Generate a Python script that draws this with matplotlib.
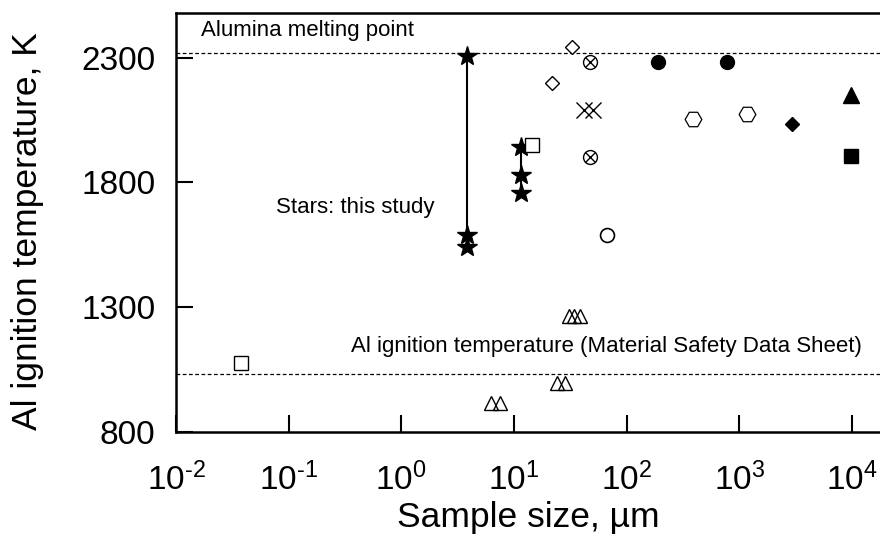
import matplotlib
matplotlib.use("Agg")
import matplotlib.pyplot as plt
from matplotlib.ticker import LogLocator, NullLocator, FuncFormatter
import math

plt.rcParams['font.family'] = ['Liberation Sans', 'DejaVu Sans']
plt.rcParams['mathtext.fontset'] = 'custom'
plt.rcParams['mathtext.rm'] = 'Liberation Sans'
plt.rcParams['mathtext.it'] = 'Liberation Sans'

# ── Reference lines ───────────────────────────────────────────────────────────
ALUMINA_MELT = 2320
MSDS_IGNITION = 1033

# ── Stars: this study (two vertical groups) ──────────────────────────────────
star_a_x = [3.8, 3.8, 3.8]
star_a_t = [2308, 1590, 1542]
star_b_x = [11.5, 11.5, 11.5]
star_b_t = [1943, 1831, 1758]

# ── Literature data ──────────────────────────────────────────────────────────
sq_open_x = [0.038, 14.5]
sq_open_t = [1078, 1951]
tri_open_x = [6.2, 7.6, 24, 28.5, 31, 34, 39]
tri_open_t = [916, 916, 996, 996, 1265, 1265, 1265]
dia_open_x = [22, 33]
dia_open_t = [2199, 2345]
circx_x = [47, 47]
circx_t = [2284, 1904]
cross_x = [42, 50]
cross_t = [2091, 2091]
circ_open_x = [67]
circ_open_t = [1590]
circ_fill_x = [190, 780]
circ_fill_t = [2283, 2283]
hex_x = [385, 1170]
hex_t = [2055, 2075]
dia_fill_x = [2950]
dia_fill_t = [2034]
tri_fill_x = [9900]
tri_fill_t = [2151]
sq_fill_x = [9900]
sq_fill_t = [1907]

fig = plt.figure(figsize=(8.8, 5.34), dpi=100)
ax = fig.add_axes([0.2, 0.191, 0.8, 0.785])

ax.axhline(ALUMINA_MELT, color='black', lw=0.9, ls=(0, (3, 2)), zorder=1)
ax.axhline(MSDS_IGNITION, color='black', lw=0.9, ls=(0, (3, 2)), zorder=1)

k = dict(ls='none', color='black', zorder=3)
ax.plot(star_a_x, star_a_t, marker='*', ms=15, ls='-', lw=1.5, color='black', zorder=3)
ax.plot(star_b_x, star_b_t, marker='*', ms=15, ls='-', lw=1.5, color='black', zorder=3)
ax.plot(sq_open_x, sq_open_t, marker='s', ms=10, mfc='white', mec='black', mew=1.0, **k)
ax.plot(tri_open_x, tri_open_t, marker='^', ms=10, mfc='none', mec='black', mew=1.0, **k)
ax.plot(dia_open_x, dia_open_t, marker='D', ms=7, mfc='white', mec='black', mew=1.0, **k)
ax.plot(circx_x, circx_t, marker='o', ms=10, mfc='white', mec='black', mew=1.0, **k)
ax.plot(circx_x, circx_t, marker='x', ms=7, mew=1.0, **k)
ax.plot(cross_x, cross_t, marker='x', ms=11, mew=1.0, **k)
ax.plot(circ_open_x, circ_open_t, marker='o', ms=10, mfc='white', mec='black', mew=1.2, **k)
ax.plot(circ_fill_x, circ_fill_t, marker='o', ms=10, **k)
ax.plot(hex_x, hex_t, marker='H', ms=12, mfc='white', mec='black', mew=0.9, **k)
ax.plot(dia_fill_x, dia_fill_t, marker='D', ms=7.5, **k)
ax.plot(tri_fill_x, tri_fill_t, marker='^', ms=11, **k)
ax.plot(sq_fill_x, sq_fill_t, marker='s', ms=10, **k)

ax.text(0.0167, 2410, 'Alumina melting point', fontsize=16, va='center', ha='left')
ax.text(0.078, 1698, 'Stars: this study', fontsize=16, va='center', ha='left')
ax.text(0.36, 1141, 'Al ignition temperature (Material Safety Data Sheet)',
        fontsize=16, va='center', ha='left')


def pow10(v, pos):
    e = int(round(math.log10(v)))
    s = str(e).replace('-', '\u2010')
    return r'$\mathdefault{10^{%s}}$' % s


ax.set_xscale('log')
ax.set_xlim(0.01, 10 ** 4.25)
ax.set_ylim(800, 2480)
ax.xaxis.set_major_locator(LogLocator(base=10, numticks=10))
ax.xaxis.set_minor_locator(NullLocator())
ax.xaxis.set_major_formatter(FuncFormatter(pow10))
ax.set_yticks([800, 1300, 1800, 2300])

ax.tick_params(direction='in', length=12, width=1.5, labelsize=24)
ax.tick_params(axis='y', pad=15)
ax.tick_params(axis='x', pad=22)
for s in ['left', 'bottom', 'top']:
    ax.spines[s].set_linewidth(1.8)
ax.spines['right'].set_visible(False)

ax.set_xlabel('Sample size, µm', fontsize=25.5, labelpad=3)
ax.set_ylabel('Al ignition temperature, K', fontsize=25.5)
ax.yaxis.set_label_coords(-0.187, 0.48)

fig.savefig('out.png', dpi=100)
